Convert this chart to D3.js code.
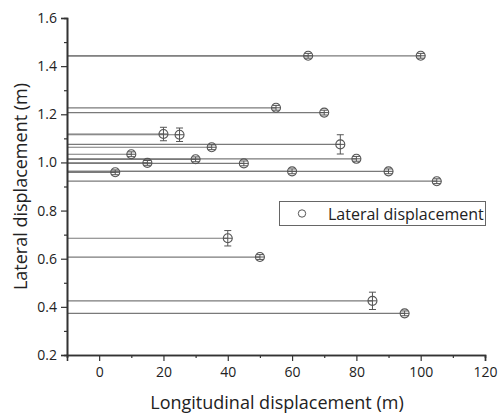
<!DOCTYPE html>
<html>
<head>
<meta charset="utf-8">
<script src="https://cdn.jsdelivr.net/npm/d3@7"></script>
<style>
  body { margin: 0; background: #fff; }
  svg text { font-family: "Open Sans", "Noto Sans", sans-serif; fill: #222; }
</style>
</head>
<body>
<div id="plot"></div>
<script>
// longitudinal (x, m), lateral (y, m), error on lateral (m)
const longitudinal = [65, 100, 55, 70, 20, 25, 35, 75, 10, 80, 30, 15, 45, 5, 60, 90, 105, 40, 50, 85, 95];
const lateral = [1.443, 1.443, 1.227, 1.207, 1.118, 1.115, 1.063, 1.075, 1.034, 1.015, 1.013,
                 0.998, 0.996, 0.959, 0.963, 0.963, 0.922, 0.685, 0.607, 0.425, 0.373];
const lateralErr = [0.01, 0.01, 0.01, 0.01, 0.028, 0.028, 0.01, 0.04, 0.01, 0.01, 0.01,
                    0.01, 0.01, 0.01, 0.01, 0.01, 0.01, 0.032, 0.01, 0.036, 0.01];

const xTicks = [0, 20, 40, 60, 80, 100, 120];
const xMinor = [-10, 10, 30, 50, 70, 90, 110];
const yTicks = [0.2, 0.4, 0.6, 0.8, 1.0, 1.2, 1.4, 1.6];
const yMinor = [0.3, 0.5, 0.7, 0.9, 1.1, 1.3, 1.5];

const legendLabel = "Lateral displacement";
const xTitle = "Longitudinal displacement (m)";
const yTitle = "Lateral displacement (m)";

const W = 500, H = 414;
const margin = {top: 18, right: 15, bottom: 59, left: 67},
      width = W - margin.left - margin.right,
      height = H - margin.top - margin.bottom;

const axisColor = "#333",
      lineColor = "#7a7a7a",
      markColor = "#555";

const svg = d3.select("#plot")
  .append("svg")
    .attr("width", W)
    .attr("height", H);

const g = svg.append("g")
    .attr("transform", "translate(" + margin.left + "," + margin.top + ")");

const xScale = d3.scaleLinear().domain([-10, 120]).range([0, width]),
      yScale = d3.scaleLinear().domain([0.2, 1.6]).range([height, 0]);

// horizontal lines from the axis to each point
g.append("g").selectAll("line")
  .data(longitudinal)
  .join("line")
    .attr("x1", xScale(-10))
    .attr("x2", d => xScale(d))
    .attr("y1", (d, i) => yScale(lateral[i]))
    .attr("y2", (d, i) => yScale(lateral[i]))
    .attr("stroke", lineColor)
    .attr("stroke-width", 1.2);

// markers with error bars
const r = 4.5, cap = 3.5;
const marks = g.append("g").selectAll("g")
  .data(longitudinal)
  .join("g")
    .attr("transform", (d, i) => "translate(" + xScale(d) + "," + yScale(lateral[i]) + ")")
    .attr("stroke", markColor)
    .attr("stroke-width", 1)
    .attr("fill", "none");

marks.append("line")
  .attr("x1", 0).attr("x2", 0)
  .attr("y1", (d, i) => yScale(lateral[i] + lateralErr[i]) - yScale(lateral[i]))
  .attr("y2", (d, i) => yScale(lateral[i] - lateralErr[i]) - yScale(lateral[i]));
marks.append("line")
  .attr("x1", -cap).attr("x2", cap)
  .attr("y1", (d, i) => yScale(lateral[i] + lateralErr[i]) - yScale(lateral[i]))
  .attr("y2", (d, i) => yScale(lateral[i] + lateralErr[i]) - yScale(lateral[i]));
marks.append("line")
  .attr("x1", -cap).attr("x2", cap)
  .attr("y1", (d, i) => yScale(lateral[i] - lateralErr[i]) - yScale(lateral[i]))
  .attr("y2", (d, i) => yScale(lateral[i] - lateralErr[i]) - yScale(lateral[i]));
marks.append("line")
  .attr("x1", -r).attr("x2", r)
  .attr("y1", 0).attr("y2", 0);
marks.append("circle")
  .attr("r", r)
  .attr("stroke-width", 1.1);

// axes
const xAxis = g.append("g")
  .attr("transform", "translate(0," + height + ")")
  .call(d3.axisBottom(xScale).tickValues(xTicks).tickSize(6).tickPadding(6));
g.append("g")
  .attr("transform", "translate(0," + height + ")")
  .call(d3.axisBottom(xScale).tickValues(xMinor).tickSize(3).tickFormat(""));

const yAxis = g.append("g")
  .call(d3.axisLeft(yScale).tickValues(yTicks).tickSize(6).tickPadding(4).tickFormat(d3.format(".1f")));
g.append("g")
  .call(d3.axisLeft(yScale).tickValues(yMinor).tickSize(3).tickFormat(""));

g.selectAll(".domain")
  .attr("stroke", axisColor)
  .attr("stroke-width", 1.6);
g.selectAll(".tick line")
  .attr("stroke", axisColor)
  .attr("stroke-width", 1.2);
g.selectAll(".tick text")
  .style("font-size", "14px")
  .attr("fill", "#222");

// legend
const legend = svg.append("g");
legend.append("rect")
  .attr("x", 279.5).attr("y", 201.5)
  .attr("width", 206).attr("height", 24)
  .attr("fill", "#fff")
  .attr("stroke", "#666")
  .attr("stroke-width", 1);
legend.append("circle")
  .attr("cx", 302).attr("cy", 213.5).attr("r", 3.7)
  .attr("fill", "none")
  .attr("stroke", markColor)
  .attr("stroke-width", 1);
legend.append("text")
  .attr("x", 328).attr("y", 219.5)
  .style("font-size", "16px")
  .text(legendLabel);

// axis titles
svg.append("text")
  .attr("text-anchor", "middle")
  .attr("x", margin.left + width / 2 + 1)
  .attr("y", 409)
  .style("font-size", "18px")
  .text(xTitle);

svg.append("text")
  .attr("text-anchor", "middle")
  .attr("transform", "translate(27," + (margin.top + height / 2) + ") rotate(-90)")
  .style("font-size", "18px")
  .text(yTitle);
</script>
</body>
</html>
